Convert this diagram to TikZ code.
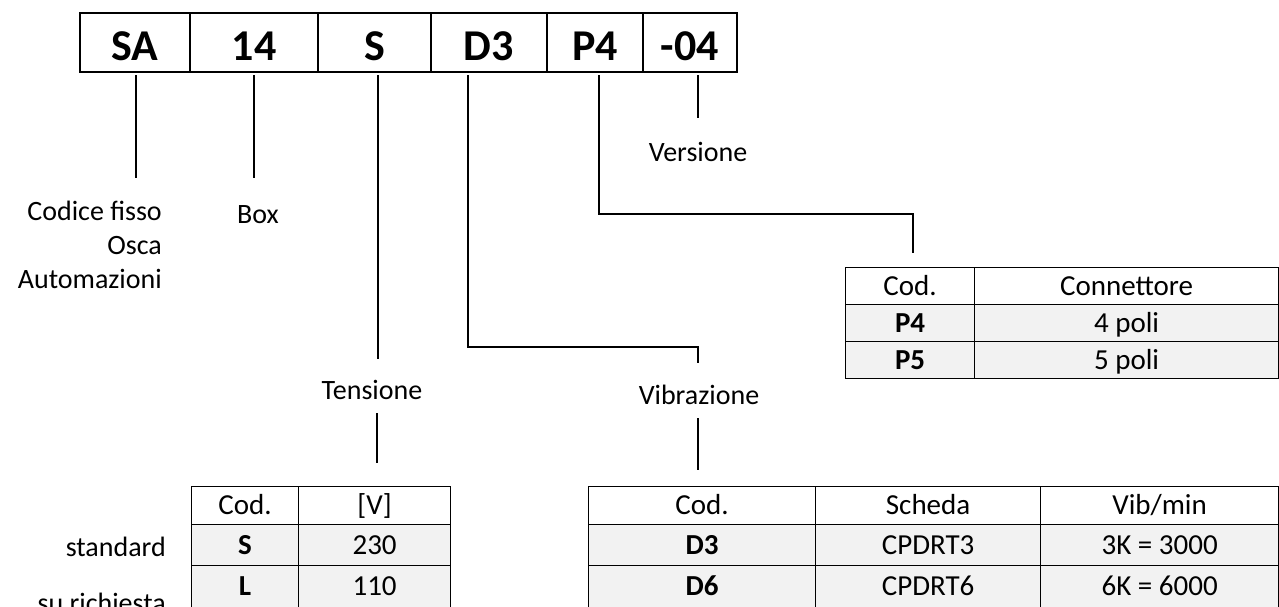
\documentclass[tikz,border=0pt]{standalone}
\usepackage{fontspec}
\setmainfont{Carlito}
\usetikzlibrary{positioning}
\tikzset{
  codebox/.style={draw,line width=1.5pt,minimum height=59pt,inner sep=0pt,
    text height=35pt,text depth=0pt,
    font=\fontsize{44}{48}\selectfont\bfseries},
  lbl/.style={inner sep=0pt,font=\fontsize{28}{34}\selectfont},
  cell/.style={draw,line width=1.2pt,anchor=north west,inner sep=0pt,
    text height=20pt,text depth=2pt,
    font=\fontsize{29}{34}\selectfont},
  datacell/.style={cell,fill=black!5},
  conn/.style={line width=1.5pt},
}

\begin{document}
\begin{tikzpicture}[x=1pt,y=-1pt]
\useasboundingbox (0,0) rectangle (1279,606);
\clip (0,0) rectangle (1279,606);

% product code
\node[codebox,minimum width=110pt] (sa)  at (135,42.5)   {SA};
\node[codebox,minimum width=128pt] (box) at (254,42.5)   {14};
\node[codebox,minimum width=113pt] (ten) at (374.5,42.5) {S};
\node[codebox,minimum width=116pt] (vib) at (489,42.5)   {D3};
\node[codebox,minimum width=96pt]  (con) at (595,42.5)   {P4};
\node[codebox,minimum width=94pt]  (ver) at (690,42.5)   {-04};

% labels
\begin{scope}
  \clip (0,0) rectangle (300,292);
  \node[lbl,align=right,anchor=north east] (fisso) at (162,201) {Codice fisso\\Osca\\Automazioni};
\end{scope}
\node[lbl] (boxlbl) at (258,215) {Box};
\node[lbl] (verlbl) at (698,152) {Versione};
\node[lbl] (tenlbl) at (372,390) {Tensione};
\node[lbl] (viblbl) at (699,395) {Vibrazione};
\node[lbl,anchor=east] (std) at (166,547) {standard};
\node[lbl,anchor=east] (req) at (166,603) {su richiesta};

% Tensione table
\node[cell,minimum width=107pt,minimum height=38pt] (t11) at (191,486) {Cod.};
\node[cell,minimum width=152pt,minimum height=38pt] (t12) at (298,486) {[V]};
\node[datacell,minimum width=107pt,minimum height=41pt] (t21) at (191,524) {\textbf{S}};
\node[datacell,minimum width=152pt,minimum height=41pt] (t22) at (298,524) {230};
\node[datacell,minimum width=107pt,minimum height=42pt] (t31) at (191,565) {\textbf{L}};
\node[datacell,minimum width=152pt,minimum height=42pt] (t32) at (298,565) {110};

% Vibrazione table
\node[cell,minimum width=227pt,minimum height=38pt] (v11) at (588,486) {Cod.};
\node[cell,minimum width=225pt,minimum height=38pt] (v12) at (815,486) {Scheda};
\node[cell,minimum width=238pt,minimum height=38pt] (v13) at (1040,486) {Vib/min};
\node[datacell,minimum width=227pt,minimum height=41pt] (v21) at (588,524) {\textbf{D3}};
\node[datacell,minimum width=225pt,minimum height=41pt] (v22) at (815,524) {CPDRT3};
\node[datacell,minimum width=238pt,minimum height=41pt] (v23) at (1040,524) {3K = 3000};
\node[datacell,minimum width=227pt,minimum height=42pt] (v31) at (588,565) {\textbf{D6}};
\node[datacell,minimum width=225pt,minimum height=42pt] (v32) at (815,565) {CPDRT6};
\node[datacell,minimum width=238pt,minimum height=42pt] (v33) at (1040,565) {6K = 6000};

% Connettore table
\node[cell,minimum width=129pt,minimum height=37pt] (c11) at (845,267) {Cod.};
\node[cell,minimum width=304pt,minimum height=37pt] (c12) at (974,267) {Connettore};
\node[datacell,minimum width=129pt,minimum height=37pt] (c21) at (845,304) {\textbf{P4}};
\node[datacell,minimum width=304pt,minimum height=37pt] (c22) at (974,304) {4 poli};
\node[datacell,minimum width=129pt,minimum height=37pt] (c31) at (845,341) {\textbf{P5}};
\node[datacell,minimum width=304pt,minimum height=37pt] (c32) at (974,341) {5 poli};

% connector ends
\coordinate (sa-a) at (136,75);   \coordinate (sa-b) at (136,178);
\coordinate (box-a) at (254,75);  \coordinate (box-b) at (254,178);
\coordinate (ten-a) at (378,75);  \coordinate (ten-b) at (378,359);
\coordinate (ten-c) at (377,413); \coordinate (ten-d) at (377,463);
\coordinate (vib-a) at (468,75);  \coordinate (vib-b) at (698,347);
\coordinate (vib-c) at (698,363);
\coordinate (vib-d) at (698,418); \coordinate (vib-e) at (698,470);
\coordinate (con-a) at (599,75);  \coordinate (con-b) at (913,214);
\coordinate (con-c) at (913,253);
\coordinate (ver-a) at (698,75);  \coordinate (ver-b) at (698,118);

\draw[conn] (sa-a) -- (sa-b);
\draw[conn] (box-a) -- (box-b);
\draw[conn] (ten-a) -- (ten-b);
\draw[conn] (ten-c) -- (ten-d);
\draw[conn] (vib-a) |- (vib-b) -- (vib-c);
\draw[conn] (vib-d) -- (vib-e);
\draw[conn] (con-a) |- (con-b) -- (con-c);
\draw[conn] (ver-a) -- (ver-b);
\end{tikzpicture}
\end{document}
